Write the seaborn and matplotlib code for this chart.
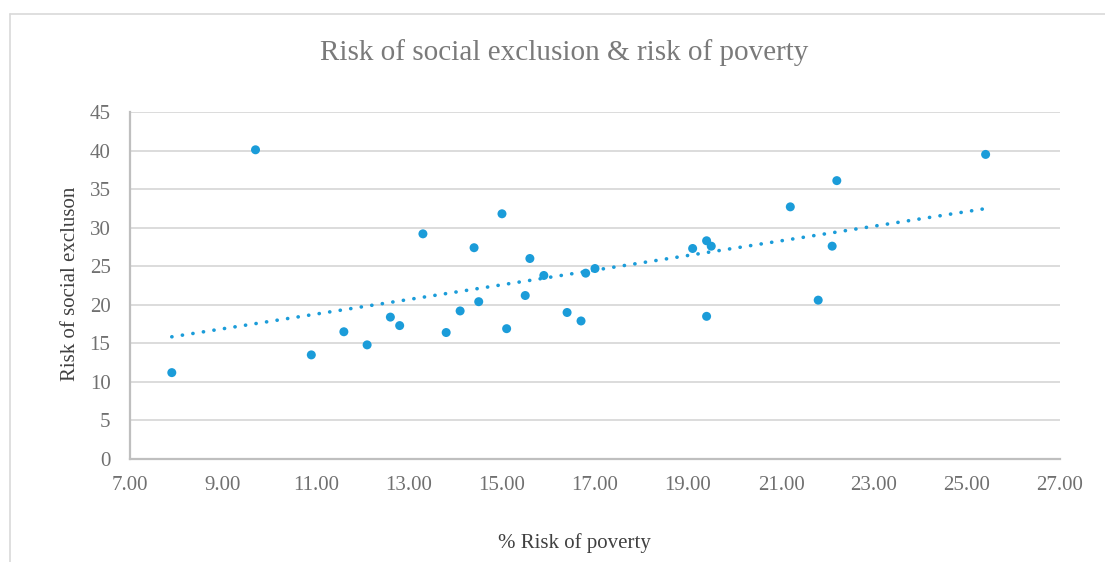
import numpy as np
import pandas as pd
import matplotlib
matplotlib.use('Agg')
import matplotlib.pyplot as plt
import seaborn as sns
from matplotlib.lines import Line2D

# values
poverty = [7.9, 9.7, 10.9, 11.6, 12.1, 12.6, 12.8, 13.3, 13.8, 14.1,
           14.4, 14.5, 15.0, 15.1, 15.5, 15.6, 15.9, 16.4, 16.7, 16.8,
           17.0, 19.1, 19.4, 19.5, 19.4, 21.2, 21.8, 22.1, 22.2, 25.4]
exclusion = [11.2, 40.1, 13.5, 16.5, 14.8, 18.4, 17.3, 29.2, 16.4, 19.2,
             27.4, 20.4, 31.8, 16.9, 21.2, 26.0, 23.8, 19.0, 17.9, 24.1,
             24.7, 27.3, 28.3, 27.6, 18.5, 32.7, 20.6, 27.6, 36.1, 39.5]
x_ticks = [7, 9, 11, 13, 15, 17, 19, 21, 23, 25, 27]
y_ticks = [0, 5, 10, 15, 20, 25, 30, 35, 40, 45]

df = pd.DataFrame({'poverty': poverty, 'exclusion': exclusion})

sns.set_theme(style='white')
plt.rcParams['font.family'] = ['Liberation Serif', 'DejaVu Serif']

blue = '#1b9cd9'
grey = '#707070'

fig = plt.figure(figsize=(11.05, 5.62), dpi=100)
ax = fig.add_axes([0.1176, 0.1833, 0.8417, 0.6174])

sns.scatterplot(data=df, x='poverty', y='exclusion', ax=ax, color=blue,
                s=42, edgecolor='none', zorder=3)
sns.regplot(data=df, x='poverty', y='exclusion', ax=ax, scatter=False, ci=None,
            truncate=True,
            line_kws={'color': blue, 'lw': 2.6, 'linestyle': (0, (0.05, 2.9)),
                      'dash_capstyle': 'round', 'zorder': 2})

ax.set_xlim(7, 27)
ax.set_ylim(0, 45)
ax.set_xticks(x_ticks)
ax.set_xticklabels([f'{v:.2f}' for v in x_ticks])
ax.set_yticks(y_ticks)
ax.grid(axis='y', color='#d9d9d9', lw=1.3)
ax.set_axisbelow(True)
for s in ['top', 'right']:
    ax.spines[s].set_visible(False)
for s in ['left', 'bottom']:
    ax.spines[s].set_color('#bfbfbf')
    ax.spines[s].set_linewidth(1.6)
ax.tick_params(axis='both', which='major', length=5, width=1, color='#bfbfbf',
               labelcolor=grey, labelsize=15, direction='out')
ax.tick_params(axis='x', pad=7)
ax.tick_params(axis='y', pad=9)
ax.set_xlabel('')
ax.set_ylabel('')

fig.text(0.511, 0.907, 'Risk of social exclusion & risk of poverty',
         ha='center', va='center', fontsize=21, color='#7a7a7a')
fig.text(0.520, 0.034, '% Risk of poverty', ha='center', va='center',
         fontsize=15, color='#404040')
fig.text(0.064, 0.495, 'Risk of social excluson', ha='center', va='center',
         rotation=90, fontsize=15, color='#404040')

# chart area border
fig.add_artist(Line2D([10 / 1105, 1.0], [1 - 14 / 562, 1 - 14 / 562],
                      transform=fig.transFigure, color='#d9d9d9', lw=1.2))
fig.add_artist(Line2D([10 / 1105, 10 / 1105], [0.0, 1 - 14 / 562],
                      transform=fig.transFigure, color='#d9d9d9', lw=1.2))

fig.savefig('out.png', dpi=100, facecolor='white')
